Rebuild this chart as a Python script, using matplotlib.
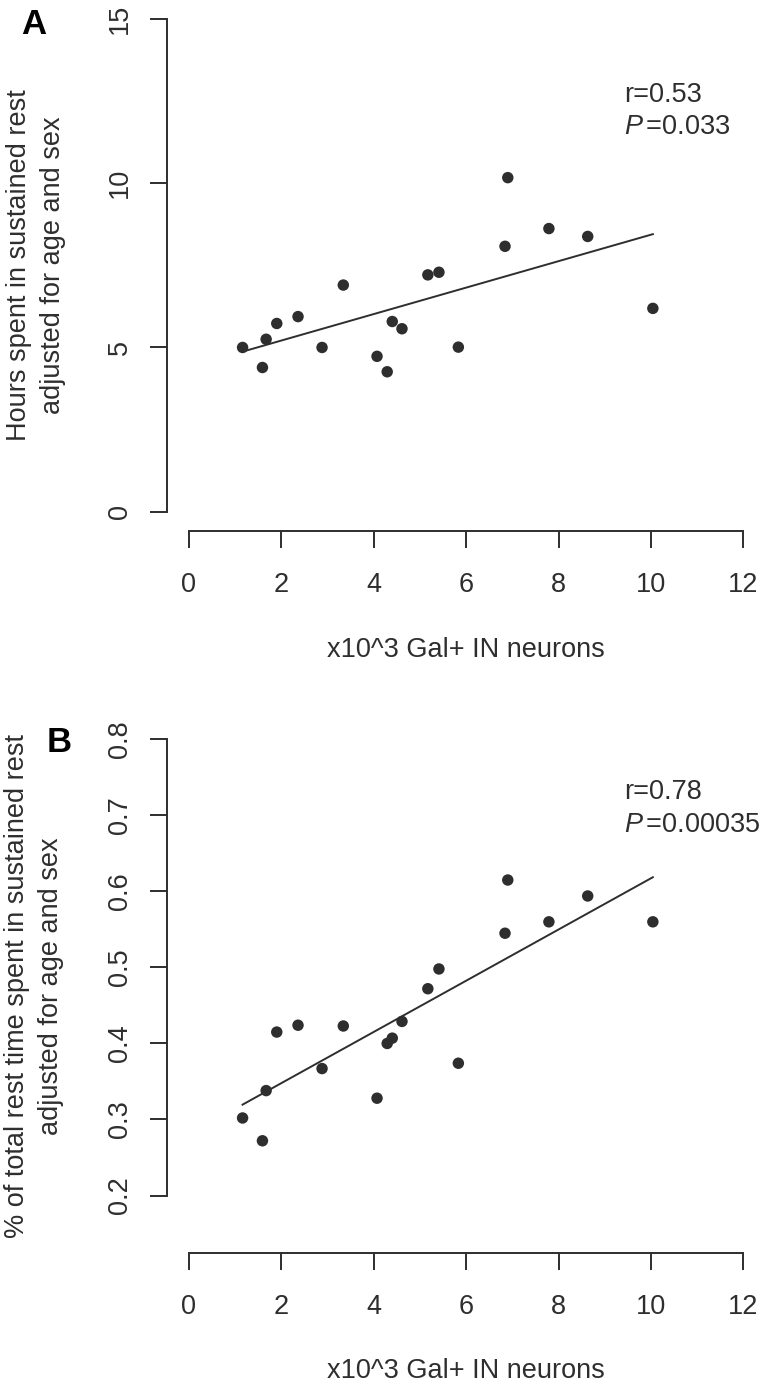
import numpy as np
import matplotlib
matplotlib.use('Agg')
import matplotlib.pyplot as plt

plt.rcParams['font.family'] = ['Liberation Sans', 'DejaVu Sans']
plt.rcParams['mathtext.fontset'] = 'custom'
plt.rcParams['mathtext.it'] = 'Liberation Sans:italic'
plt.rcParams['mathtext.rm'] = 'Liberation Sans'

# x10^3 Gal+ IN neurons (same subjects in both panels)
neurons = [1.16, 1.59, 1.67, 1.90, 2.36, 2.88, 3.34, 4.07, 4.29, 4.40,
           4.61, 5.17, 5.41, 5.83, 6.84, 6.90, 7.79, 8.63, 10.04]
# panel A: hours in sustained rest
rest_hours = [5.00, 4.39, 5.25, 5.73, 5.94, 5.00, 6.90, 4.73, 4.26, 5.79,
              5.57, 7.21, 7.29, 5.01, 8.08, 10.17, 8.62, 8.38, 6.19]
# panel B: fraction of total rest time in sustained rest
rest_fraction = [0.302, 0.272, 0.338, 0.415, 0.424, 0.367, 0.423, 0.328, 0.400, 0.407,
                 0.429, 0.472, 0.498, 0.374, 0.545, 0.615, 0.560, 0.594, 0.560]

x_ticks = [0, 2, 4, 6, 8, 10, 12]
hours_ticks = [0, 5, 10, 15]
fraction_ticks = [0.2, 0.3, 0.4, 0.5, 0.6, 0.7, 0.8]
x_label = 'x10^3 Gal+ IN neurons'

ink = '#2e2e2e'
W, H = 763, 1386
fig = plt.figure(figsize=(W / 100, H / 100), dpi=100)


def panel(box, y, yticks, ylim, ylines, letter, letter_xy, stats, stats_y, ylab_x, xlab_y):
    left, top, right, bottom = box
    ax = fig.add_axes([left / W, 1 - bottom / H, (right - left) / W, (bottom - top) / H])
    ax.scatter(neurons, y, s=68, color=ink, edgecolors='none', zorder=3)
    p = np.poly1d(np.polyfit(neurons, y, 1))
    xs = np.array([min(neurons), max(neurons)])
    ax.plot(xs, p(xs), color=ink, lw=1.4)

    ax.set_xlim(-0.48, 12.48)
    ax.set_ylim(*ylim)
    ax.set_xticks(x_ticks)
    ax.set_yticks(yticks)
    ax.set_yticklabels([('%g' % v) for v in yticks])
    for s in ['top', 'right']:
        ax.spines[s].set_visible(False)
    ax.spines['left'].set_bounds(yticks[0], yticks[-1])
    ax.spines['bottom'].set_bounds(x_ticks[0], x_ticks[-1])
    for s in ['left', 'bottom']:
        ax.spines[s].set_color(ink)
        ax.spines[s].set_linewidth(1.4)
    ax.tick_params(direction='out', length=12, width=1.4, color=ink,
                   labelsize=19.5, labelcolor=ink)
    ax.tick_params(axis='x', pad=17.5)
    ax.tick_params(axis='y', pad=12.5, labelrotation=90)
    for lab in ax.get_yticklabels():
        lab.set_verticalalignment('center')

    ymid = (top + bottom) / 2
    for bx, line in zip(ylab_x, ylines):
        fig.text(bx / W, 1 - ymid / H, line, rotation=90, rotation_mode='anchor',
                 ha='center', va='baseline', fontsize=19.5, color=ink)
    fig.text(466 / W, 1 - xlab_y / H, x_label, ha='center', va='baseline',
             fontsize=19.5, color=ink)
    fig.text(letter_xy[0] / W, 1 - letter_xy[1] / H, letter, fontsize=25,
             fontweight='bold', color='black', va='baseline', ha='left')
    ax.text(9.41, stats_y[0], 'r=' + stats[0], fontsize=19.5, color=ink, va='baseline')
    ax.text(9.41, stats_y[1], r'$P\,$=' + stats[1], fontsize=19.5, color=ink, va='baseline')
    return ax


panel((166.8, -0.7, 765.6, 531.4), rest_hours, hours_ticks, (-0.6, 15.6),
      ['Hours spent in sustained rest', 'adjusted for age and sex'],
      'A', (20.7, 34), ('0.53', '0.033'), (12.48, 11.50), (26, 60), 656.7)

panel((166.8, 719.6, 765.6, 1253.3), rest_fraction, fraction_ticks, (0.124, 0.826),
      ['% of total rest time spent in sustained rest', 'adjusted for age and sex'],
      'B', (47, 752), ('0.78', '0.00035'), (0.721, 0.678), (24, 58), 1378)

plt.savefig('out.png', dpi=100)
